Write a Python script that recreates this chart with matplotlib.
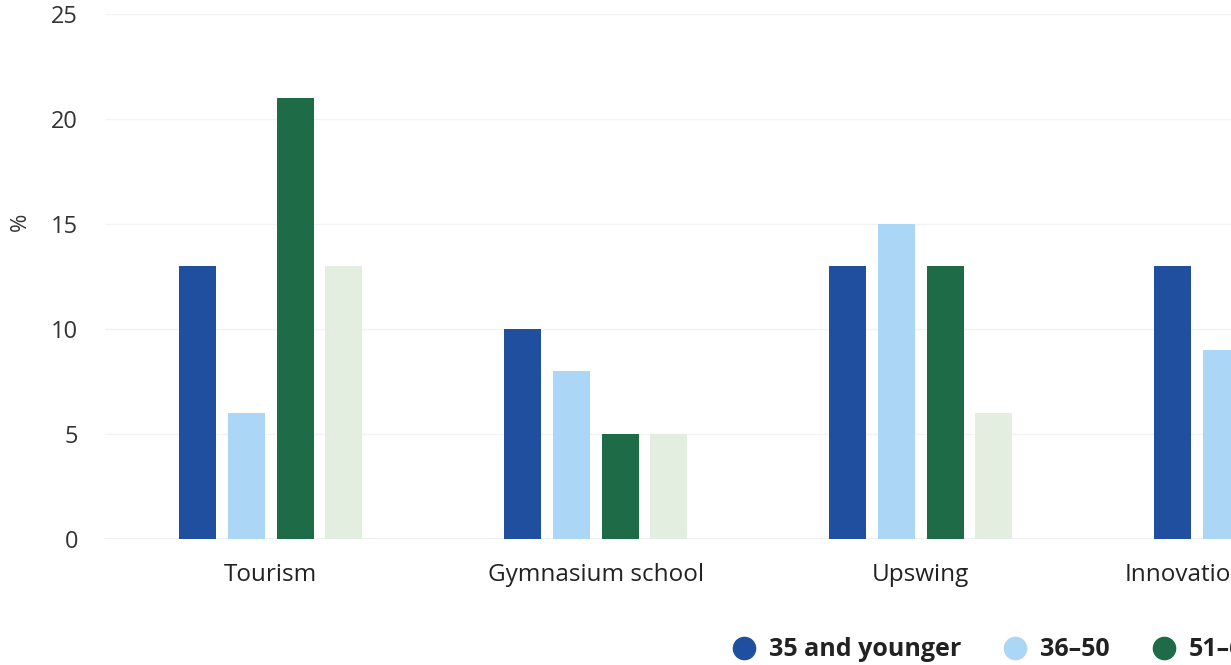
import matplotlib

matplotlib.use("Agg")
import matplotlib.pyplot as plt
from matplotlib.lines import Line2D
import numpy as np

categories = ["Tourism", "Gymnasium school", "Upswing", "Innovation"]
age_groups = ["35 and younger", "36–50", "51–65", "66 and older"]
share_35 = [13, 10, 13, 13]
share_36_50 = [6, 8, 15, 9]
share_51_65 = [21, 5, 13, 10]
share_66 = [13, 5, 6, 7]
y_ticks = [0, 5, 10, 15, 20, 25]

colors = ["#1f4f9e", "#acd6f6", "#1d6c47", "#e3eee0"]
series = [share_35, share_36_50, share_51_65, share_66]

plt.rcParams["font.family"] = ["Open Sans", "DejaVu Sans"]

fig = plt.figure(figsize=(12.31, 6.65), dpi=100)
# plot area runs past the right edge of the canvas
ax = fig.add_axes([105 / 1231, 126 / 665, 1300 / 1231, 525 / 665])

x = np.arange(len(categories))
step = 0.15
width = 0.114
for k, (vals, col) in enumerate(zip(series, colors)):
    ax.bar(x + (k - 1.5) * step, vals, width=width, color=col, zorder=3)

ax.set_xlim(-0.51, 3.49)
ax.set_ylim(0, 25)
ax.set_yticks(y_ticks)
ax.set_xticks(x)
ax.set_xticklabels(categories)
# last label is pulled inside so it does not hang off the edge
ax.get_xticklabels()[-1].set_horizontalalignment("right")
ax.grid(axis="y", color="#f3f3f3", linewidth=1.0, zorder=0)
ax.axhline(0, color="#eeeeee", linewidth=1.2, zorder=2)
for s in ax.spines.values():
    s.set_visible(False)
ax.tick_params(axis="y", length=0, pad=19.5, labelsize=17, labelcolor="#333333")
ax.tick_params(axis="x", length=0, pad=17, labelsize=17.5, labelcolor="#222222")

fig.text(20 / 1231, 1 - 222 / 665, "%", rotation=90, ha="center", va="center",
         fontsize=16, color="#333333")

handles = [
    Line2D([], [], marker="o", linestyle="none", markersize=16,
           markerfacecolor=c, markeredgecolor=c)
    for c in colors
]
fig.legend(handles, age_groups, ncol=4, frameon=False, loc="center left",
           bbox_to_anchor=(729 / 1231, 1 - 650 / 665), handletextpad=0.4,
           columnspacing=1.56, handlelength=1.2, borderpad=0, borderaxespad=0,
           prop={"size": 18, "weight": "bold"}, labelcolor="#222222")

fig.savefig("out.png", dpi=100)
